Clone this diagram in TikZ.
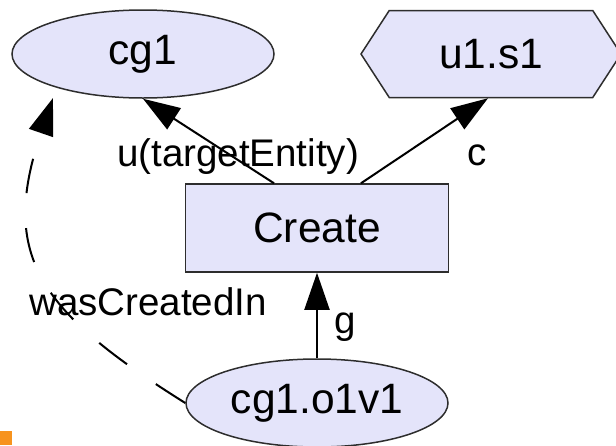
\documentclass[tikz,border=0pt]{standalone}
\usepackage{fontspec}
\setmainfont{Liberation Sans}
\usetikzlibrary{arrows.meta}
\usetikzlibrary{shapes.geometric}
\usetikzlibrary{shapes.symbols}
\usetikzlibrary{positioning}
\definecolor{custom-lavender}{RGB}{228, 228, 250}
\definecolor{custom-grey}{RGB}{45, 45, 45}
\definecolor{custom-amber}{RGB}{247, 147, 30}

\begin{document}
\begin{tikzpicture}[x=1pt, y=-1pt,
  entity/.style={ellipse, fill=custom-lavender, draw=custom-grey, line width=1.5pt, inner sep=0pt, minimum width=262pt, minimum height=88pt, font=\fontsize{42.5}{50}\selectfont},
  activity/.style={rectangle, fill=custom-lavender, draw=custom-grey, line width=1.5pt, inner sep=0pt, minimum width=263pt, minimum height=88pt, font=\fontsize{42.5}{50}\selectfont},
  agent/.style={signal, signal to=west and east, signal pointer angle=114, fill=custom-lavender, draw=custom-grey, line width=1.5pt, inner sep=0pt, minimum width=260pt, minimum height=87pt, font=\fontsize{42.5}{50}\selectfont},
  rel/.style={line width=2pt, -{Triangle[length=37pt, width=25pt]}},
  lbl/.style={anchor=base, inner sep=0pt, font=\fontsize{38.5}{46}\selectfont}]
\useasboundingbox (0,0) rectangle (616,445);
\node[entity] (cg1) at (143,54) {cg1};
\node[agent] (u1s1) at (491,54) {u1.s1};
\node[activity] (create) at (317,228) {Create};
\node[entity] (cg1o1v1) at (317,403) {cg1.o1v1};
\coordinate (wtip) at (53,98);
\node[lbl] (lu) at (238,166) {u(targetEntity)};
\node[lbl] (lc) at (477,165) {c};
\node[lbl] (lg) at (345,333) {g};
\node[lbl] (lw) at (148,315) {wasCreatedIn};
\draw[rel] ([xshift=-43pt]create.north) -- (cg1.south);
\draw[rel] ([xshift=44pt]create.north) -- ([xshift=-3pt]u1s1.south);
\draw[rel] (cg1o1v1.north) -- (create.south);
\draw[rel, dash pattern=on 35pt off 35pt] (cg1o1v1.west) .. controls (42,313) and (-2,258) .. (wtip);
\fill[custom-amber] (0,431) rectangle (12,445);
\end{tikzpicture}
\end{document}
